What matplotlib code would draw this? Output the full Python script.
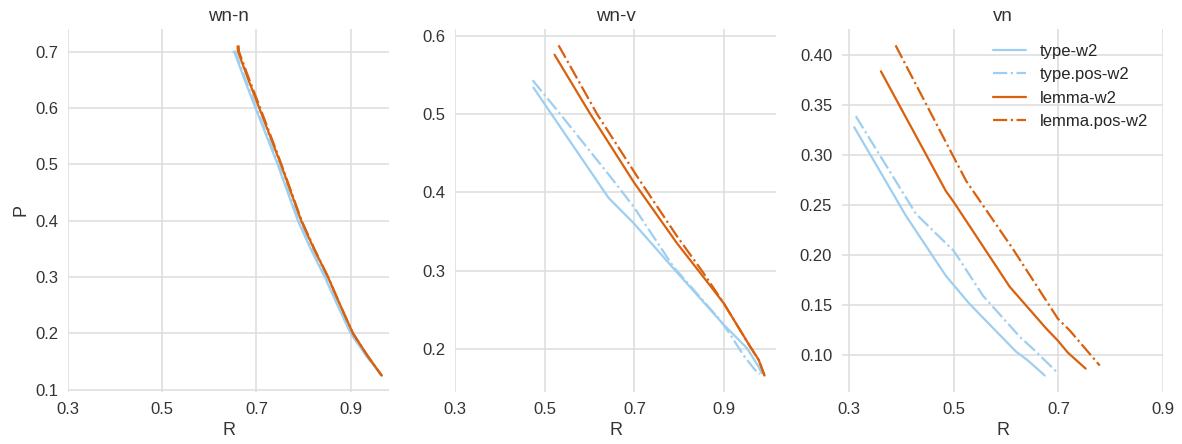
import matplotlib
matplotlib.use('Agg')
import matplotlib.pyplot as plt
import seaborn as sns

sns.set_style('whitegrid')
plt.rcParams['font.family'] = ['Liberation Sans', 'DejaVu Sans']

titles = ['wn-n', 'wn-v', 'vn']
series = ['type-w2', 'type.pos-w2', 'lemma-w2', 'lemma.pos-w2']
colors = {'type-w2': '#9ecff0', 'type.pos-w2': '#9ecff0',
          'lemma-w2': '#d9600c', 'lemma.pos-w2': '#d9600c'}
styles = {'type-w2': '-', 'type.pos-w2': '-.', 'lemma-w2': '-', 'lemma.pos-w2': '-.'}

# wn-n
wnn_R = {
    'type-w2':      [0.651, 0.653, 0.675, 0.698, 0.745, 0.788, 0.815, 0.845, 0.872, 0.900, 0.933, 0.966],
    'type.pos-w2':  [0.653, 0.655, 0.677, 0.700, 0.747, 0.790, 0.817, 0.847, 0.874, 0.901, 0.934, 0.966],
    'lemma-w2':     [0.660, 0.661, 0.683, 0.706, 0.752, 0.795, 0.822, 0.852, 0.878, 0.905, 0.936, 0.966],
    'lemma.pos-w2': [0.662, 0.663, 0.685, 0.708, 0.753, 0.796, 0.823, 0.852, 0.878, 0.905, 0.936, 0.966],
}
wnn_P = {
    'type-w2':      [0.699, 0.700, 0.650, 0.600, 0.500, 0.400, 0.350, 0.300, 0.250, 0.200, 0.160, 0.125],
    'type.pos-w2':  [0.701, 0.700, 0.650, 0.600, 0.500, 0.400, 0.350, 0.300, 0.250, 0.200, 0.160, 0.125],
    'lemma-w2':     [0.709, 0.700, 0.650, 0.600, 0.500, 0.400, 0.350, 0.300, 0.250, 0.200, 0.160, 0.125],
    'lemma.pos-w2': [0.711, 0.700, 0.650, 0.600, 0.500, 0.400, 0.350, 0.300, 0.250, 0.200, 0.160, 0.125],
}

# wn-v
wnv_R = {
    'type-w2':      [0.475, 0.6425, 0.698, 0.787, 0.899, 0.951, 0.977, 0.984],
    'type.pos-w2':  [0.473, 0.535, 0.646, 0.698, 0.787, 0.891, 0.914, 0.943, 0.969, 0.980],
    'lemma-w2':     [0.522, 0.602, 0.700, 0.795, 0.847, 0.899, 0.958, 0.977, 0.990],
    'lemma.pos-w2': [0.531, 0.617, 0.706, 0.795, 0.854, 0.899, 0.958, 0.977, 0.990],
}
wnv_P = {
    'type-w2':      [0.534, 0.393, 0.361, 0.303, 0.231, 0.201, 0.177, 0.169],
    'type.pos-w2':  [0.5435, 0.500, 0.4205, 0.382, 0.305, 0.237, 0.218, 0.192, 0.173, 0.168],
    'lemma-w2':     [0.576, 0.500, 0.412, 0.335, 0.297, 0.2585, 0.203, 0.186, 0.166],
    'lemma.pos-w2': [0.588, 0.500, 0.4205, 0.344, 0.297, 0.2585, 0.203, 0.186, 0.166],
}

# vn
vn_R = {
    'type-w2':      [0.310, 0.409, 0.485, 0.530, 0.619, 0.642, 0.674],
    'type.pos-w2':  [0.313, 0.428, 0.500, 0.514, 0.556, 0.626, 0.651, 0.696],
    'lemma-w2':     [0.361, 0.485, 0.500, 0.607, 0.677, 0.699, 0.718, 0.752],
    'lemma.pos-w2': [0.389, 0.500, 0.524, 0.613, 0.699, 0.722, 0.779],
}
vn_P = {
    'type-w2':      [0.328, 0.239, 0.179, 0.151, 0.103, 0.094, 0.079],
    'type.pos-w2':  [0.339, 0.241, 0.204, 0.193, 0.159, 0.118, 0.106, 0.083],
    'lemma-w2':     [0.384, 0.264, 0.253, 0.168, 0.126, 0.114, 0.102, 0.086],
    'lemma.pos-w2': [0.410, 0.298, 0.274, 0.206, 0.136, 0.124, 0.089],
}

all_R = [wnn_R, wnv_R, vn_R]
all_P = [wnn_P, wnv_P, vn_P]
xticks = [0.3, 0.5, 0.7, 0.9]

fig, axes = plt.subplots(1, 3, figsize=(11.82, 4.44), dpi=100)
fig.subplots_adjust(left=0.0575, right=0.984, top=0.935, bottom=0.117, wspace=0.205)

for ax, title, R, P in zip(axes, titles, all_R, all_P):
    for s in series:
        ax.plot(R[s], P[s], color=colors[s], linestyle=styles[s], lw=1.6, label=s)
    ax.set_xticks(xticks)
    ax.set_title(title, fontsize=13.5, color='#333333')
    ax.set_xlabel('R', fontsize=13, color='#333333')
    ax.tick_params(labelsize=12, colors='#333333')
    ax.grid(color='#dddddd', lw=1.1)
    for sp in ax.spines.values():
        sp.set_visible(False)

axes[0].set_ylabel('P', fontsize=13, color='#333333')
axes[2].legend(loc='upper right', frameon=False, fontsize=12, handlelength=2.0)

plt.savefig('out.png', dpi=100)
